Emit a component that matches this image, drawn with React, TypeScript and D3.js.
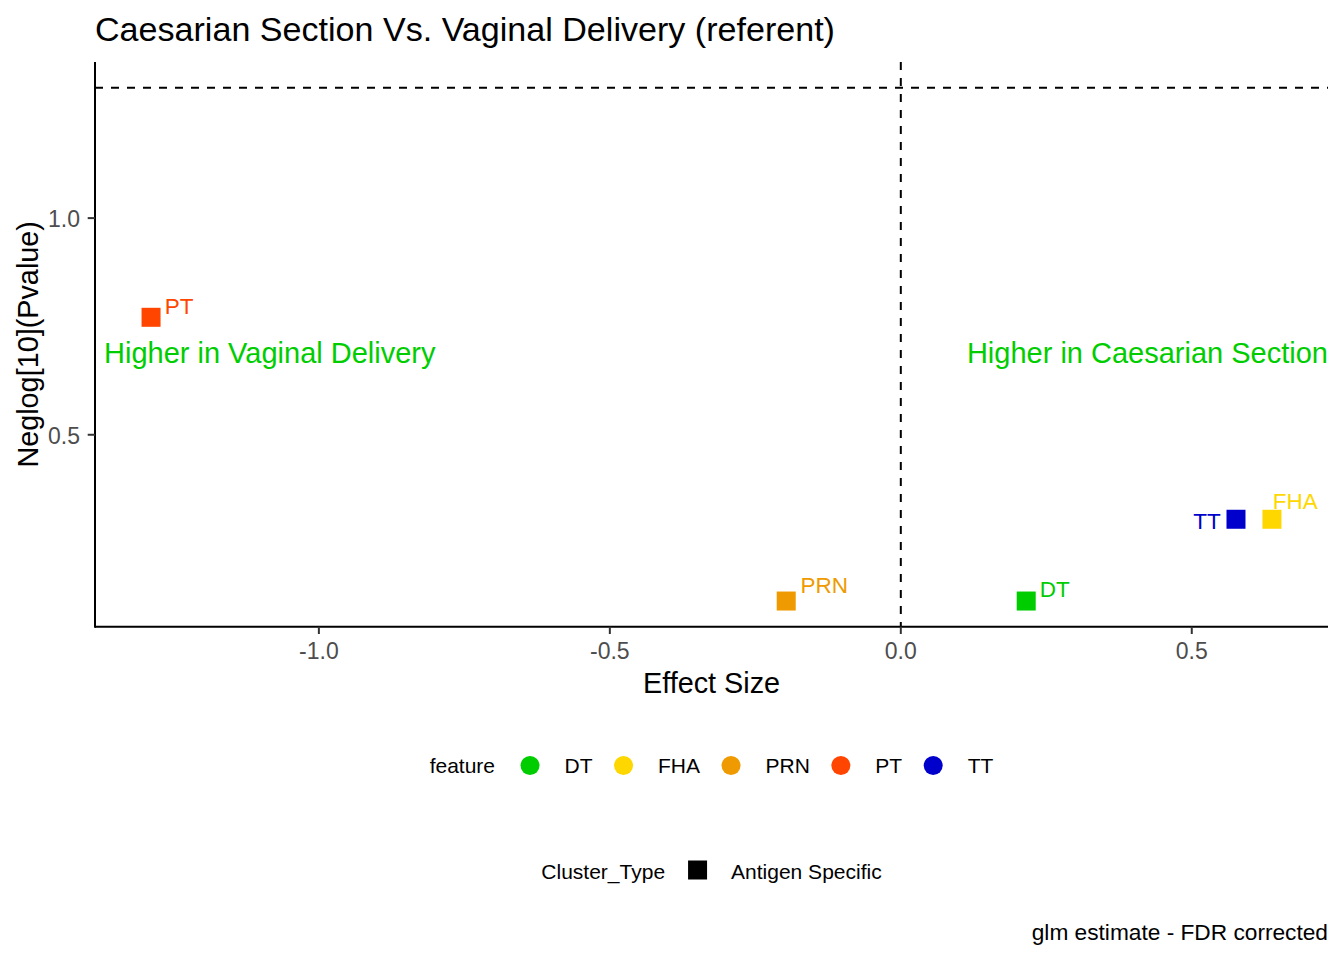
import React from "react";
import * as d3 from "d3";

// ---- data ----
const features = ["DT", "FHA", "PRN", "PT", "TT"];
const featureColors = ["#00CD00", "#FFD700", "#EE9A00", "#FF4500", "#0000CD"];
const effectSize = [0.2155, 0.6378, -0.1969, -1.2884, 0.576];
const neglogP = [0.1163, 0.305, 0.1163, 0.7711, 0.305];
const clusterTypes = ["Antigen Specific"];
const xTicks = [-1.0, -0.5, 0.0, 0.5];
const yTicks = [0.5, 1.0];
const threshold = -Math.log10(0.05);
const titleText = "Caesarian Section Vs. Vaginal Delivery (referent)";
const xLabel = "Effect Size";
const yLabel = "Neglog[10](Pvalue)";
const leftNote = "Higher in Vaginal Delivery";
const rightNote = "Higher in Caesarian Section";
const noteY = 0.69;
const captionText = "glm estimate - FDR corrected";

// label offsets (layout of repelled labels, px): dx, dy, anchor
const labelOffsets: [number, number, string][] = [
  [13.5, -3.6, "start"],
  [0.8, -10.2, "start"],
  [14.4, -7.6, "start"],
  [13.8, -3.2, "start"],
  [-15.2, 9.5, "end"],
];

const W = 1344;
const H = 960;
const FONT = "'Liberation Sans', Arial, Helvetica, sans-serif";
const panel = { left: 95, right: 1328, top: 62, bottom: 626.7 };

function expand(ext: [number, number], m = 0.05): [number, number] {
  const r = ext[1] - ext[0];
  return [ext[0] - r * m, ext[1] + r * m];
}

let ctx: CanvasRenderingContext2D | null = null;
function textW(s: string, size: number) {
  if (!ctx) ctx = document.createElement("canvas").getContext("2d");
  if (!ctx) return s.length * size * 0.55;
  ctx.font = `${size}px 'Liberation Sans', Arial, sans-serif`;
  return ctx.measureText(s).width;
}

export default function App() {
  const x = d3
    .scaleLinear()
    .domain(expand(d3.extent(effectSize) as [number, number]))
    .range([panel.left, panel.right]);
  const y = d3
    .scaleLinear()
    .domain(expand([d3.min(neglogP) as number, Math.max(threshold, d3.max(neglogP) as number)]))
    .range([panel.bottom, panel.top]);

  const f1 = d3.format(".1f");
  const fmt = (v: number) => f1(v).replace("\u2212", "-");
  const cx = (panel.left + panel.right) / 2;
  const cy = (panel.top + panel.bottom) / 2;

  // legend layout
  const legSize = 21;
  const titleGap = 35;
  const keyGap = 34.5;
  const itemGap = 31;
  const keyR = 9.5;
  const featItems: { kx: number; lx: number }[] = [];
  let pos = textW("feature", legSize) + titleGap;
  features.forEach((f) => {
    featItems.push({ kx: pos, lx: pos + keyGap });
    pos += keyGap + textW(f, legSize) + itemGap;
  });
  const featTotal = pos - itemGap;
  const featStart = cx - featTotal / 2;
  const clusItems: { kx: number; lx: number }[] = [];
  let pos2 = textW("Cluster_Type", legSize) + 32.5;
  clusterTypes.forEach((c) => {
    clusItems.push({ kx: pos2, lx: pos2 + 33.5 });
    pos2 += 33.5 + textW(c, legSize) + itemGap;
  });
  const clusTotal = pos2 - itemGap;
  const clusStart = cx - clusTotal / 2;

  const featRowY = 765.5;
  const clusRowY = 870;

  return (
    <svg
      width={W}
      height={H}
      style={{ position: "absolute", left: 0, top: 0, background: "#fff" }}
      fontFamily={FONT}
    >
      <rect width={W} height={H} fill="#fff" />
      <text x={panel.left} y={41} fontSize={34.1} fill="#000">
        {titleText}
      </text>

      <line
        x1={panel.left}
        x2={panel.right}
        y1={y(threshold)}
        y2={y(threshold)}
        stroke="#000"
        strokeWidth={2}
        strokeDasharray="8,8"
      />
      <line
        x1={x(0)}
        x2={x(0)}
        y1={panel.top}
        y2={panel.bottom}
        stroke="#000"
        strokeWidth={2}
        strokeDasharray="8,8"
      />

      <text x={panel.left + 9} y={y(noteY) + 10.5} fontSize={29} fill="#00CD00">
        {leftNote}
      </text>
      <text x={panel.right} y={y(noteY) + 10.5} fontSize={29} fill="#00CD00" textAnchor="end">
        {rightNote}
      </text>

      {features.map((f, i) => (
        <rect
          key={f}
          x={x(effectSize[i]) - 9.5}
          y={y(neglogP[i]) - 9.5}
          width={19}
          height={19}
          fill={featureColors[i]}
        />
      ))}
      {features.map((f, i) => (
        <text
          key={f + "l"}
          x={x(effectSize[i]) + labelOffsets[i][0]}
          y={y(neglogP[i]) + labelOffsets[i][1]}
          fontSize={22.5}
          fill={featureColors[i]}
          textAnchor={labelOffsets[i][2] as any}
        >
          {f}
        </text>
      ))}

      <line x1={panel.left} x2={panel.right} y1={panel.bottom} y2={panel.bottom} stroke="#000" strokeWidth={2} />
      <line x1={panel.left} x2={panel.left} y1={panel.top} y2={panel.bottom + 1} stroke="#000" strokeWidth={2} />
      {xTicks.map((t) => (
        <g key={"xt" + t}>
          <line x1={x(t)} x2={x(t)} y1={panel.bottom} y2={panel.bottom + 7.3} stroke="#333" strokeWidth={2} />
          <text x={x(t)} y={659} fontSize={23} fill="#4D4D4D" textAnchor="middle">
            {fmt(t)}
          </text>
        </g>
      ))}
      {yTicks.map((t) => (
        <g key={"yt" + t}>
          <line x1={panel.left - 7.3} x2={panel.left} y1={y(t)} y2={y(t)} stroke="#333" strokeWidth={2} />
          <text x={80} y={y(t) + 9} fontSize={23} fill="#4D4D4D" textAnchor="end">
            {fmt(t)}
          </text>
        </g>
      ))}
      <text x={cx} y={693} fontSize={28.8} fill="#000" textAnchor="middle">
        {xLabel}
      </text>
      <text
        transform={`translate(37.5,${cy}) rotate(-90)`}
        fontSize={28.8}
        fill="#000"
        textAnchor="middle"
      >
        {yLabel}
      </text>

      <text x={featStart} y={featRowY + 7.8} fontSize={legSize} fill="#000">
        feature
      </text>
      {features.map((f, i) => (
        <g key={"lg" + f}>
          <circle cx={featStart + featItems[i].kx} cy={featRowY} r={keyR} fill={featureColors[i]} />
          <text x={featStart + featItems[i].lx} y={featRowY + 7.8} fontSize={legSize} fill="#000">
            {f}
          </text>
        </g>
      ))}

      <text x={clusStart} y={clusRowY + 8.5} fontSize={legSize} fill="#000">
        Cluster_Type
      </text>
      {clusterTypes.map((c, i) => (
        <g key={"cl" + c}>
          <rect x={clusStart + clusItems[i].kx - 9.5} y={clusRowY - 9.5} width={19} height={19} fill="#000" />
          <text x={clusStart + clusItems[i].lx} y={clusRowY + 8.5} fontSize={legSize} fill="#000">
            {c}
          </text>
        </g>
      ))}

      <text x={panel.right} y={940} fontSize={22.7} fill="#000" textAnchor="end">
        {captionText}
      </text>
    </svg>
  );
}
